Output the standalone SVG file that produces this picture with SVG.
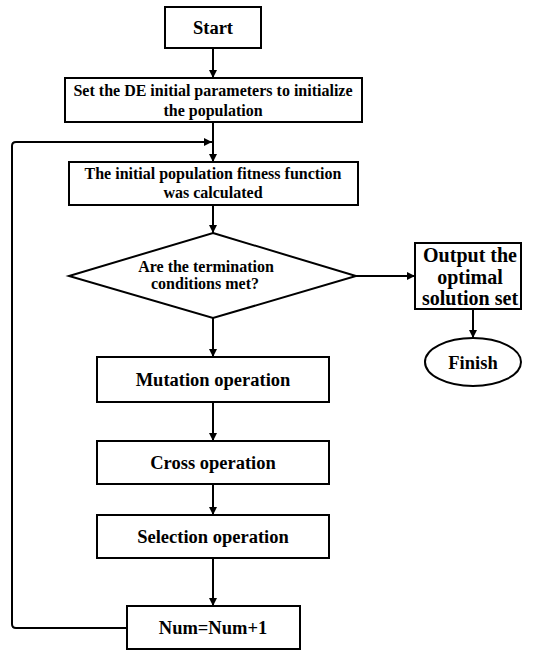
<svg xmlns="http://www.w3.org/2000/svg" width="535" height="650" viewBox="0 0 535 650">
<style>
.n{fill:#fff;stroke:#000;stroke-width:2}
.t{font-family:"Liberation Serif","Times New Roman",serif;font-weight:bold;fill:#000;text-anchor:middle}
.c{fill:none;stroke:#000;stroke-width:2}
</style>
<defs>
<marker id="a" viewBox="0 0 10 10" refX="10" refY="5" markerWidth="4" markerHeight="4" orient="auto" markerUnits="strokeWidth">
<path d="M0,0L10,5L0,10z" fill="#000"/>
</marker>
</defs>
<rect width="535" height="650" fill="#fff"/>
<g id="connectors">
<path class="c" d="M213,48V78" marker-end="url(#a)"/>
<path class="c" d="M213,122V162" marker-end="url(#a)"/>
<path class="c" d="M213,205V233" marker-end="url(#a)"/>
<path class="c" d="M356,276H415" marker-end="url(#a)"/>
<path class="c" d="M473,309V338" marker-end="url(#a)"/>
<path class="c" d="M213,318V357" marker-end="url(#a)"/>
<path class="c" d="M213,402V441" marker-end="url(#a)"/>
<path class="c" d="M213,484V515" marker-end="url(#a)"/>
<path class="c" d="M213,558V606" marker-end="url(#a)"/>
<path class="c" d="M127,628H16Q12,628 12,624V146Q12,142 16,142H212" marker-end="url(#a)"/>
</g>
<g id="start">
<rect class="n" x="165" y="7" width="96" height="41"/>
<text class="t" x="213" y="34" font-size="18.5">Start</text>
</g>
<g id="init">
<rect class="n" x="65" y="78" width="297" height="44"/>
<text class="t" x="213" y="96" font-size="16">Set the DE initial parameters to initialize</text>
<text class="t" x="213" y="116" font-size="16">the population</text>
</g>
<g id="fitness">
<rect class="n" x="69" y="162" width="289" height="43"/>
<text class="t" x="213" y="179" font-size="16">The initial population fitness function</text>
<text class="t" x="213" y="198" font-size="16">was calculated</text>
</g>
<g id="decision">
<polygon class="n" points="213,233 356,276 213,318 69,276"/>
<text class="t" x="206" y="272" font-size="16">Are the termination</text>
<text class="t" x="205" y="289" font-size="16">conditions met?</text>
</g>
<g id="output">
<rect class="n" x="415" y="243" width="106" height="66"/>
<text class="t" x="470" y="262" font-size="20">Output the</text>
<text class="t" x="470" y="284" font-size="20">optimal</text>
<text class="t" x="470" y="305" font-size="20">solution set</text>
</g>
<g id="finish">
<ellipse class="n" cx="473" cy="362" rx="48" ry="24"/>
<text class="t" x="473" y="369" font-size="18.5">Finish</text>
</g>
<g id="mutation">
<rect class="n" x="97" y="357" width="232" height="45"/>
<text class="t" x="213" y="386" font-size="18.5">Mutation operation</text>
</g>
<g id="cross">
<rect class="n" x="97" y="441" width="232" height="43"/>
<text class="t" x="213" y="469" font-size="18.5">Cross operation</text>
</g>
<g id="selection">
<rect class="n" x="97" y="515" width="232" height="43"/>
<text class="t" x="213" y="543" font-size="18.5">Selection operation</text>
</g>
<g id="num">
<rect class="n" x="127" y="606" width="173" height="43"/>
<text class="t" x="213" y="634" font-size="18.5">Num=Num+1</text>
</g>
</svg>
